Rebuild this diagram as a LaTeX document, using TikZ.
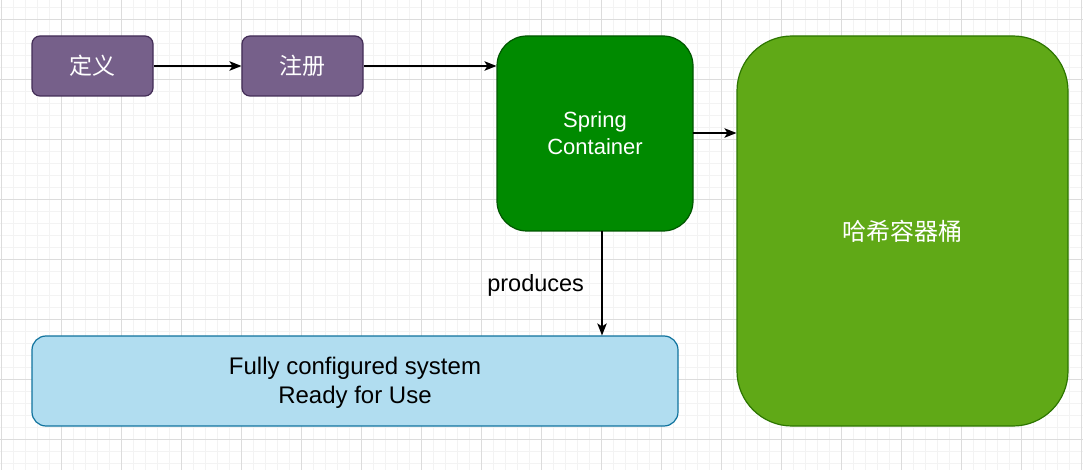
\documentclass[tikz,border=0pt]{standalone}
\usepackage{fontspec}
\setmainfont{Liberation Sans}
\newfontfamily\cjk{Noto Sans CJK SC}
\usetikzlibrary{arrows.meta}
\definecolor{gridminor}{HTML}{F3F3F3}
\definecolor{gridmajor}{HTML}{DCDCDC}
\definecolor{purplefill}{HTML}{76608A}
\definecolor{purpleline}{HTML}{432D57}
\definecolor{darkgreen}{HTML}{008A00}
\definecolor{darkgreenline}{HTML}{005700}
\definecolor{lightgreen}{HTML}{60A917}
\definecolor{lightgreenline}{HTML}{2D7600}
\definecolor{bluefill}{HTML}{B1DDF0}
\definecolor{blueline}{HTML}{10739E}
\tikzset{
  box/.style={draw, line width=1.2pt, rectangle, inner sep=0pt, align=center},
  purplebox/.style={box, fill=purplefill, draw=purpleline, rounded corners=8pt, minimum width=121pt, minimum height=60pt, text=white, font=\cjk\fontsize{23}{28}\selectfont},
  conn/.style={line width=1.4pt, -{Stealth[length=12pt,width=9.5pt,inset=3pt]}},
}
\begin{document}
\begin{tikzpicture}[x=1pt,y=-1pt]
\useasboundingbox (0,0) rectangle (1083,470);
\fill[white] (0,0) rectangle (1083,470);
% grid
\foreach \i in {0,...,90} {\draw[gridminor, line width=0.8pt] (1.7+12*\i,0) -- (1.7+12*\i,470);}
\foreach \j in {0,...,39} {\draw[gridminor, line width=0.8pt] (0,7.3+12*\j) -- (1083,7.3+12*\j);}
\foreach \i in {0,...,18} {\draw[gridmajor, line width=0.8pt] (1.7+60*\i,0) -- (1.7+60*\i,470);}
\foreach \j in {0,...,7} {\draw[gridmajor, line width=0.8pt] (0,19.3+60*\j) -- (1083,19.3+60*\j);}
% nodes
\node[purplebox] (def) at (92.5,66) {定义};
\node[purplebox] (reg) at (302.5,66) {注册};
\node[box, fill=darkgreen, draw=darkgreenline, rounded corners=30pt, minimum width=196pt, minimum height=195pt, text=white, font=\fontsize{22}{27}\selectfont] (spring) at (595,133.5) {Spring\\Container};
\node[box, fill=lightgreen, draw=lightgreenline, rounded corners=55pt, minimum width=331pt, minimum height=390pt, text=white, font=\cjk\fontsize{24}{28}\selectfont] (hash) at (902.5,231) {哈希容器桶};
\node[box, fill=bluefill, draw=blueline, rounded corners=14pt, minimum width=646pt, minimum height=90pt] (sys) at (355,381) {};
\node[align=center, inner sep=0pt, text=black, font=\fontsize{24}{28.5}\selectfont] (systext) at ([yshift=-2pt]sys.center) {Fully configured system\\Ready for Use};
% connectors
\draw[conn] (def.east) -- (reg.west);
\draw[conn] (reg.east) -- (reg.east -| spring.west);
\coordinate (sright) at (693,133);
\draw[conn] (sright) -- (sright -| hash.west);
\coordinate (sbot) at (602,231);
\draw[conn] (sbot) -- (sbot |- sys.north) node[pos=0.5, left=14pt, yshift=-2pt, text=black, font=\fontsize{23.5}{28}\selectfont] (lbl) {produces};
\end{tikzpicture}
\end{document}
